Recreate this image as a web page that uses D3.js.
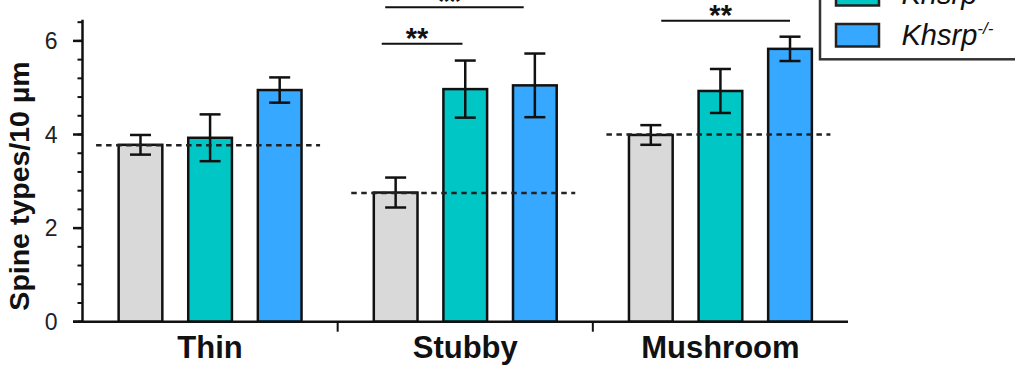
<!DOCTYPE html>
<html>
<head>
<meta charset="utf-8">
<script src="https://cdn.jsdelivr.net/npm/d3@7"></script>
<style>
  body { margin: 0; background: #fff; }
  svg { display: block; }
  text { font-family: "Liberation Sans", Arial, sans-serif; }
</style>
</head>
<body>
<svg id="chart" width="1015" height="365"></svg>
<script>
// data
var categories = ["Thin", "Stubby", "Mushroom"];
var series = ["WT", "Khsrp+/-", "Khsrp-/-"];
var wtMean  = [3.78, 2.76, 3.99];
var hetMean = [3.93, 4.97, 4.93];
var koMean  = [4.95, 5.05, 5.83];
var wtErr  = [0.21, 0.32, 0.21];
var hetErr = [0.50, 0.61, 0.47];
var koErr  = [0.27, 0.68, 0.26];
var baseline = [3.77, 2.75, 4.00];   // dashed WT reference per group
var yTicks = [0, 2, 4, 6];
var minorTicks = d3.range(0, 6.41, 0.4);
// significance bars (group, from/to in series index units, height)
var sigCat  = ["Stubby", "Stubby", "Mushroom"];
var sigFrom = [-0.2, -0.15, 0.15];
var sigTo   = [0.96, 1.84, 2.0];
var sigY    = [5.94, 6.72, 6.43];
var sigText = ["**", "**", "**"];

var colors = ["#d9d9d9", "#00c6c6", "#36a8ff"];
var means = [wtMean, hetMean, koMean];
var errs = [wtErr, hetErr, koErr];

var svg = d3.select("#chart");

var x0 = 82.5, x1 = 848, y0 = 321.7, pxPerUnit = 46.8;
var yTop = 6.45;

var x = d3.scaleBand().domain(categories).range([x0, x1]).padding(0);
var xi = d3.scaleLinear().domain([0, 2]).range([-69.6, 69.6]);
var y = d3.scaleLinear().domain([0, yTop]).range([y0, y0 - yTop * pxPerUnit]);
var barW = 43.7;

function cx(cat) { return x(cat) + x.bandwidth() / 2; }

// bars
var rows = [];
categories.forEach(function(c, ci){
  series.forEach(function(s, si){
    rows.push({cat: c, si: si, v: means[si][ci], e: errs[si][ci]});
  });
});

var bars = svg.append("g");
bars.selectAll("rect").data(rows).enter().append("rect")
  .attr("x", function(d){ return cx(d.cat) + xi(d.si) - barW / 2; })
  .attr("y", function(d){ return y(d.v); })
  .attr("width", barW)
  .attr("height", function(d){ return y(0) - y(d.v); })
  .style("fill", function(d){ return colors[d.si]; })
  .style("stroke", "#111")
  .style("stroke-width", 2.5);

// error bars
var eb = svg.append("g").style("stroke", "#111").style("stroke-width", 2.5);
rows.forEach(function(d){
  var xc = cx(d.cat) + xi(d.si);
  eb.append("line").attr("x1", xc).attr("x2", xc)
    .attr("y1", y(d.v + d.e)).attr("y2", y(d.v - d.e));
  [d.v + d.e, d.v - d.e].forEach(function(v){
    eb.append("line").attr("x1", xc - 10.5).attr("x2", xc + 10.5)
      .attr("y1", y(v)).attr("y2", y(v));
  });
});

// dashed reference lines
svg.append("g").selectAll("line").data(categories).enter().append("line")
  .attr("x1", function(c){ return Math.max(cx(c) - 114, x0 + 2.5); })
  .attr("x2", function(c){ return cx(c) + 110; })
  .attr("y1", function(c, i){ return y(baseline[i]); })
  .attr("y2", function(c, i){ return y(baseline[i]); })
  .style("stroke", "#222")
  .style("stroke-width", 2.6)
  .style("stroke-dasharray", "5.5,4.5");

// y axis
var yAxis = svg.append("g").attr("transform", "translate(" + x0 + ",0)");
yAxis.append("line").attr("x1", 0).attr("x2", 0)
  .attr("y1", y(0)).attr("y2", y(yTop))
  .style("stroke", "#111").style("stroke-width", 2.5);
yAxis.selectAll(".minor").data(minorTicks).enter().append("line")
  .attr("x1", -5).attr("x2", 0)
  .attr("y1", function(d){ return y(d); }).attr("y2", function(d){ return y(d); })
  .style("stroke", "#111").style("stroke-width", 2);
yAxis.selectAll(".major").data(yTicks).enter().append("line")
  .attr("x1", -9.5).attr("x2", 0)
  .attr("y1", function(d){ return y(d); }).attr("y2", function(d){ return y(d); })
  .style("stroke", "#111").style("stroke-width", 2.5);
yAxis.selectAll("text").data(yTicks).enter().append("text")
  .attr("x", -25).attr("y", function(d){ return y(d); })
  .attr("dy", "0.36em")
  .attr("text-anchor", "end")
  .attr("font-size", "23px")
  .style("fill", "#222")
  .text(function(d){ return d; });

svg.append("text")
  .attr("transform", "translate(29," + 186 + ") rotate(-90)")
  .attr("text-anchor", "middle")
  .attr("font-size", "28.5px")
  .attr("font-weight", "bold")
  .style("fill", "#111")
  .text("Spine types/10 µm");

// x axis
svg.append("line").attr("x1", x0 - 9.5).attr("x2", x1)
  .attr("y1", y0).attr("y2", y0)
  .style("stroke", "#111").style("stroke-width", 2.5);
svg.append("g").selectAll("line").data(categories.slice(1)).enter().append("line")
  .attr("x1", function(c){ return x(c); }).attr("x2", function(c){ return x(c); })
  .attr("y1", y0).attr("y2", y0 + 10)
  .style("stroke", "#111").style("stroke-width", 2);
svg.append("g").selectAll("text").data(categories).enter().append("text")
  .attr("x", function(c){ return cx(c); })
  .attr("y", 358)
  .attr("text-anchor", "middle")
  .attr("font-size", "31px")
  .attr("font-weight", "bold")
  .style("fill", "#111")
  .text(function(c){ return c; });

// significance
var sg = svg.append("g");
sigCat.forEach(function(c, i){
  var a = cx(c) + xi(sigFrom[i]), b = cx(c) + xi(sigTo[i]), yy = y(sigY[i]);
  sg.append("line").attr("x1", a).attr("x2", b).attr("y1", yy).attr("y2", yy)
    .style("stroke", "#111").style("stroke-width", 2);
  sg.append("text").attr("x", (a + b) / 2 - 5).attr("y", yy + 4)
    .attr("text-anchor", "middle")
    .attr("font-size", "29px")
    .attr("font-weight", "bold")
    .style("fill", "#111")
    .text(sigText[i]);
});

// legend (top part runs off the picture)
var lg = svg.append("g");
lg.append("rect").attr("x", 820).attr("y", -140).attr("width", 220).attr("height", 199.3)
  .style("fill", "#fff").style("stroke", "#333").style("stroke-width", 2.5);
var supers = ["", "+/-", "-/-"];
var names = ["WT", "Khsrp", "Khsrp"];
series.forEach(function(s, i){
  var top = 24 - (2 - i) * 41;
  lg.append("rect").attr("x", 836).attr("y", top).attr("width", 43).attr("height", 22.5)
    .style("fill", colors[i]).style("stroke", "#222").style("stroke-width", 2.5);
  var t = lg.append("text").attr("x", 901.5).attr("y", top + 21)
    .attr("font-size", "29px")
    .style("fill", "#111");
  if (i === 0) { t.text(names[i]); return; }
  t.style("font-style", "italic").text(names[i]);
  t.append("tspan").attr("dy", -11).attr("font-size", "17px").text(supers[i]);
});
</script>
</body>
</html>
